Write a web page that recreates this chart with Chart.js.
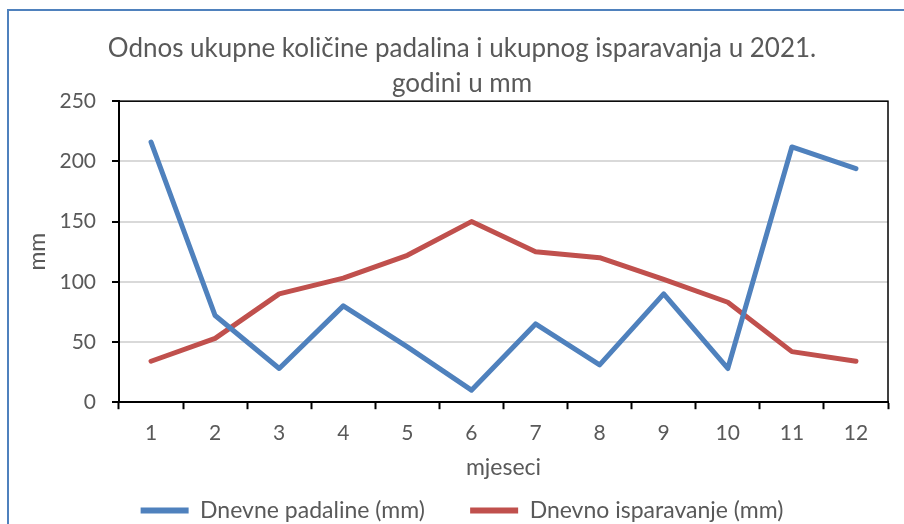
<!DOCTYPE html>
<html>
  <head>
    <script src="https://cdn.jsdelivr.net/npm/chart.js"></script>
    <style>
      body { margin: 0; background: #fff; overflow: hidden; }
      .wrap { position: relative; width: 904px; height: 524px; overflow: hidden; }
      .frame {
        position: absolute; left: 7px; top: 9px; width: 1000px; height: 1000px;
        border-left: 2px solid #4f81bd; border-top: 2px solid #4f81bd;
      }
      canvas { position: absolute; left: 0; top: 0; }
    </style>
  </head>
  <body>
    <div class="wrap">
      <div class="frame"></div>
      <canvas id="chart" width="904" height="524"></canvas>
    </div>

    <script>
      // data
      const months = ['1', '2', '3', '4', '5', '6', '7', '8', '9', '10', '11', '12'];
      const padaline = [216, 72, 28, 80, 46, 10, 65, 31, 90, 28, 212, 194];
      const isparavanje = [34, 53, 90, 103, 122, 150, 125, 120, 102, 83, 42, 34];
      const seriesNames = ['Dnevne padaline (mm)', 'Dnevno isparavanje (mm)'];
      const titleLines = ['Odnos ukupne količine padalina i ukupnog isparavanja u 2021.', 'godini u mm'];
      const yMin = 0, yMax = 250, yStep = 50;

      const grey = '#595959';
      Chart.defaults.font.family = 'Lato, sans-serif';
      Chart.defaults.color = grey;

      // thin box round the plot area (top + right edges)
      const plotFrame = {
        id: 'plotFrame',
        beforeDatasetsDraw(chart) {
          const a = chart.chartArea, ctx = chart.ctx;
          ctx.save();
          ctx.strokeStyle = '#000';
          ctx.lineWidth = 1.5;
          ctx.strokeRect(a.left, a.top, a.right - a.left, a.bottom - a.top);
          ctx.restore();
        }
      };

      const lineStyle = { borderWidth: 5, borderCapStyle: 'round', borderJoinStyle: 'round', pointRadius: 0, tension: 0 };

      new Chart(document.getElementById('chart'), {
        type: 'line',
        data: {
          labels: months,
          datasets: [{
            label: seriesNames[0],
            data: padaline,
            borderColor: '#4f81bd',
            backgroundColor: '#4f81bd',
            ...lineStyle
          }, {
            label: seriesNames[1],
            data: isparavanje,
            borderColor: '#c0504d',
            backgroundColor: '#c0504d',
            ...lineStyle
          }]
        },
        options: {
          responsive: false,
          animation: false,
          layout: { padding: { left: 36, right: 16, top: 31, bottom: -8 } },
          scales: {
            x: {
              offset: true,
              grid: { offset: true, drawOnChartArea: false, tickLength: 7, tickColor: '#000', tickWidth: 2 },
              border: { color: '#000', width: 2 },
              ticks: { padding: 11, font: { size: 21 }, maxRotation: 0 },
              title: { display: true, text: 'mjeseci', font: { size: 23 }, padding: { top: -3, bottom: 8 } }
            },
            y: {
              min: yMin, max: yMax,
              ticks: { stepSize: yStep, padding: 16, font: { size: 21 } },
              grid: { color: '#d9d9d9', lineWidth: 2, tickLength: 7, tickColor: '#000', tickWidth: 2 },
              border: { color: '#000', width: 2 },
              title: { display: true, text: 'mm', font: { size: 23 }, padding: { top: -12, bottom: 0 } },
              afterFit(scale) { scale.width = 83; }
            }
          },
          plugins: {
            title: {
              display: true,
              text: titleLines,
              font: { size: 26, weight: 'normal', lineHeight: 1.35 },
              color: grey,
              padding: { top: 0, bottom: 0 }
            },
            legend: {
              position: 'bottom',
              labels: {
                usePointStyle: true,
                pointStyle: 'line',
                pointStyleWidth: 48,
                padding: 10,
                font: { size: 23 },
                color: grey,
                generateLabels(chart) {
                  const items = Chart.defaults.plugins.legend.labels.generateLabels(chart);
                  items.forEach((it, i) => {
                    it.lineWidth = 6;
                    // a bit more room between the two entries
                    if (i < items.length - 1) it.text += '      ';
                  });
                  return items;
                }
              }
            },
            tooltip: { enabled: false }
          }
        },
        plugins: [plotFrame]
      });
    </script>
  </body>
</html>
